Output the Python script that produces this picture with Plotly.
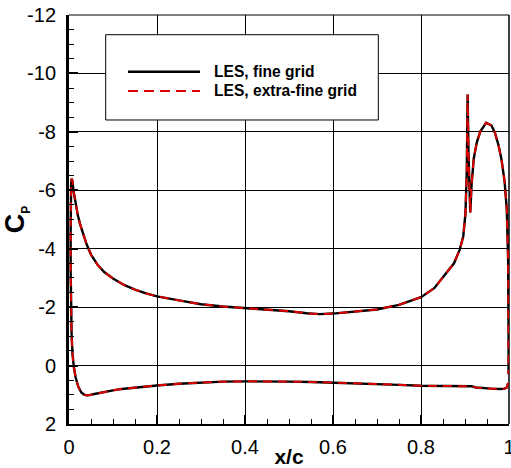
import plotly.graph_objects as go

# ---- data ----
# path: trailing edge lower surface -> leading edge -> upper surface -> trailing edge
x_fine = [0.998, 0.995, 0.99, 0.98, 0.96, 0.935, 0.925, 0.915, 0.90, 0.88, 0.85, 0.80,
          0.75, 0.70, 0.65, 0.60, 0.55, 0.50, 0.45, 0.40, 0.35, 0.30, 0.25, 0.20,
          0.15, 0.12, 0.10, 0.08, 0.065, 0.055, 0.047, 0.041, 0.035, 0.028, 0.021,
          0.015, 0.011, 0.008, 0.006, 0.0045, 0.0038, 0.0037, 0.004, 0.0048, 0.006,
          0.008, 0.010, 0.013, 0.016, 0.020, 0.025, 0.030, 0.040, 0.050, 0.065,
          0.080, 0.100, 0.125, 0.150, 0.175, 0.200, 0.250, 0.300, 0.350, 0.400,
          0.450, 0.480, 0.500, 0.540, 0.570, 0.600, 0.650, 0.700, 0.750, 0.800,
          0.830, 0.858, 0.875, 0.888, 0.896, 0.901, 0.904, 0.905, 0.906, 0.908,
          0.910, 0.912, 0.915, 0.920, 0.927, 0.935, 0.948, 0.960, 0.968, 0.976,
          0.983, 0.990, 0.995, 0.998, 0.999, 0.999]
cp_fine = [0.60, 0.75, 0.79, 0.80, 0.79, 0.77, 0.75, 0.71, 0.71, 0.71, 0.70, 0.69,
           0.66, 0.63, 0.60, 0.58, 0.56, 0.55, 0.54, 0.54, 0.55, 0.58, 0.62, 0.68,
           0.75, 0.80, 0.85, 0.90, 0.95, 0.98, 1.01, 1.02, 1.00, 0.92, 0.72,
           0.40, 0.05, -0.40, -1.00, -2.00, -3.20, -4.50, -5.60, -6.20, -6.40,
           -6.30, -6.00, -5.70, -5.45, -5.15, -4.85, -4.60, -4.15, -3.80, -3.45,
           -3.20, -2.98, -2.76, -2.60, -2.47, -2.37, -2.23, -2.10, -2.02, -1.97,
           -1.93, -1.90, -1.86, -1.79, -1.76, -1.78, -1.84, -1.92, -2.08, -2.34,
           -2.65, -3.18, -3.50, -3.97, -4.42, -5.20, -6.60, -8.00, -9.28, -7.20,
           -5.70, -5.24, -6.20, -7.10, -7.65, -8.02, -8.31, -8.22, -7.97, -7.55,
           -7.05, -6.30, -5.34, -3.60, -1.00, 0.30]

x_xfine = list(x_fine)
cp_xfine = [0.60, 0.75, 0.79, 0.80, 0.79, 0.77, 0.75, 0.71, 0.71, 0.71, 0.70, 0.69,
            0.66, 0.63, 0.60, 0.58, 0.56, 0.55, 0.54, 0.54, 0.55, 0.58, 0.62, 0.68,
            0.75, 0.80, 0.85, 0.90, 0.95, 0.98, 1.01, 1.02, 1.00, 0.92, 0.72,
            0.40, 0.05, -0.40, -1.00, -2.00, -3.20, -4.50, -5.60, -6.20, -6.40,
            -6.30, -6.00, -5.70, -5.45, -5.15, -4.85, -4.60, -4.15, -3.80, -3.45,
            -3.20, -2.98, -2.76, -2.60, -2.47, -2.37, -2.23, -2.10, -2.02, -1.97,
            -1.93, -1.90, -1.86, -1.79, -1.76, -1.78, -1.84, -1.92, -2.08, -2.34,
            -2.65, -3.18, -3.50, -3.97, -4.42, -5.20, -6.60, -8.00, -9.28, -7.20,
            -5.70, -5.24, -6.20, -7.10, -7.65, -8.02, -8.31, -8.22, -7.97, -7.55,
            -7.05, -6.30, -5.34, -3.60, -1.00, 0.30]

series_names = ["LES, fine grid", "LES, extra-fine grid"]
x_tickvals = [0, 0.2, 0.4, 0.6, 0.8, 1]
x_ticktext = ["0", "0.2", "0.4", "0.6", "0.8", "1"]
y_tickvals = [-12, -10, -8, -6, -4, -2, 0, 2]
y_ticktext = ["-12", "-10", "-8", "-6", "-4", "-2", "0", "2"]

FONT = "Liberation Sans, Arial, sans-serif"

fig = go.Figure()
fig.add_trace(go.Scatter(x=x_fine, y=cp_fine, mode="lines", name=series_names[0],
                         line=dict(color="black", width=2.4), showlegend=False))
fig.add_trace(go.Scatter(x=x_xfine, y=cp_xfine, mode="lines", name=series_names[1],
                         line=dict(color="#dd0000", width=2, dash="9px,6px"),
                         showlegend=False))

# frame lines on top and right edges of the plot area
fig.add_shape(type="line", xref="paper", yref="paper", x0=0, x1=1, y0=1, y1=1,
              line=dict(color="#555555", width=1.5), layer="below")
fig.add_shape(type="line", xref="paper", yref="paper", x0=1, x1=1, y0=0, y1=1,
              line=dict(color="black", width=1.5), layer="below")

# manual legend box matching the reference layout
lx0, lx1, ly0, ly1 = 0.0834, 0.703, 0.7433, 0.9518
fig.add_shape(type="rect", xref="paper", yref="paper", x0=lx0, x1=lx1, y0=ly0, y1=ly1,
              line=dict(color="black", width=1), fillcolor="white", layer="above")
fig.add_shape(type="line", xref="paper", yref="paper", x0=0.1341, x1=0.2977,
              y0=0.8614, y1=0.8614, line=dict(color="black", width=2.4), layer="above")
fig.add_shape(type="line", xref="paper", yref="paper", x0=0.1341, x1=0.2977,
              y0=0.8142, y1=0.8142, line=dict(color="#dd0000", width=2, dash="10px,6px"),
              layer="above")
for name, yy in zip(series_names, [0.8614, 0.8142]):
    fig.add_annotation(xref="paper", yref="paper", x=0.3248, y=yy, xanchor="left",
                       yanchor="middle", text="<b>%s</b>" % name, showarrow=False,
                       font=dict(family=FONT, size=15.6, color="black"))

axis_common = dict(showline=True, linecolor="black", ticks="inside", tickcolor="black",
                   showgrid=True, gridcolor="black", gridwidth=1, zeroline=False,
                   ticklabeloverflow="allow",
                   tickfont=dict(family=FONT, size=20, color="black"))

fig.update_xaxes(range=[0, 1], tickmode="array", tickvals=x_tickvals, ticktext=x_ticktext,
                 linewidth=2, ticklen=9, tickwidth=2, ticklabelstandoff=4, automargin=False,
                 minor=dict(ticks="inside", ticklen=5, tickwidth=1, dtick=0.05,
                            tickcolor="black", showgrid=False),
                 title=dict(text="<b>x/c</b>",
                            font=dict(family=FONT, size=21, color="black")),
                 **axis_common)
fig.update_yaxes(range=[2, -12], tickmode="array", tickvals=y_tickvals, ticktext=y_ticktext,
                 linewidth=3, ticklen=9, tickwidth=2, ticklabelstandoff=6, automargin=True,
                 minor=dict(ticks="inside", ticklen=5, tickwidth=1, dtick=0.5,
                            tickcolor="black", showgrid=False),
                 title=dict(text="<b>C<sub><span style='font-size:12px'>P</span></sub></b>",
                            standoff=1, font=dict(family=FONT, size=27, color="black")),
                 **axis_common)

fig.update_layout(width=511, height=468, margin=dict(l=69, r=2, t=15, b=44),
                  plot_bgcolor="white", paper_bgcolor="white",
                  font=dict(family=FONT, color="black"))

fig.write_html("out.html", config={"displayModeBar": False},
               post_script="document.body.style.margin='0';document.body.style.overflow='hidden';")
